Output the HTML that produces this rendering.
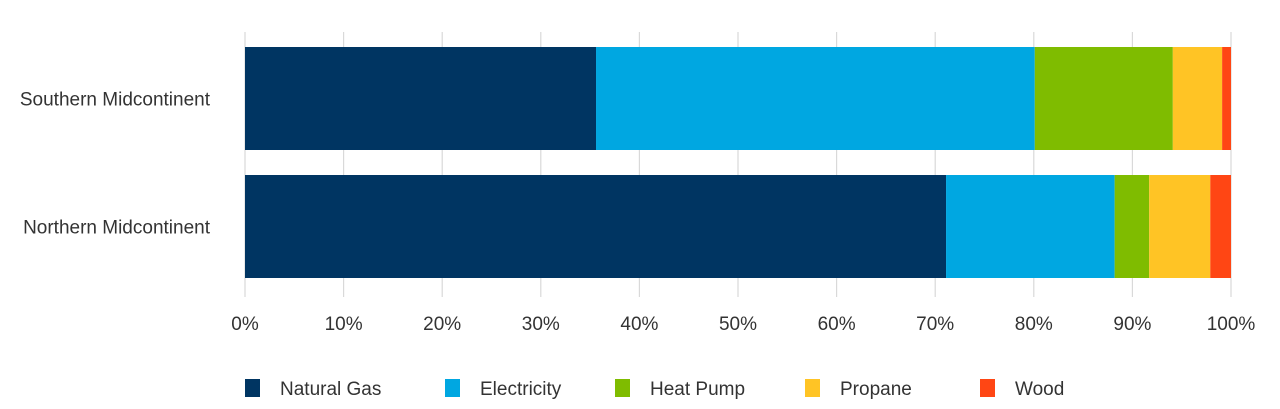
<!DOCTYPE html>
<html><head><meta charset="utf-8"><style>
body{margin:0;background:#fff;width:1280px;height:404px;overflow:hidden;font-family:"Liberation Sans",sans-serif}
</style></head><body>
<svg id="chart" width="1280" height="404" xmlns="http://www.w3.org/2000/svg"></svg>
<script>
const categories = ["Southern Midcontinent", "Northern Midcontinent"];
const seriesNames = ["Natural Gas", "Electricity", "Heat Pump", "Propane", "Wood"];
const naturalGas = [35.6, 71.1];
const electricity = [44.5, 17.1];
const heatPump = [14.0, 3.5];
const propane = [5.0, 6.2];
const wood = [0.9, 2.1];
const tickValues = [0,10,20,30,40,50,60,70,80,90,100];
const tickLabels = ["0%","10%","20%","30%","40%","50%","60%","70%","80%","90%","100%"];

const colors = ["#003562","#00a7e1","#7fbc00","#ffc425","#ff4614"];
const series = [naturalGas, electricity, heatPump, propane, wood];
const svg = document.getElementById('chart');
const NS = "http://www.w3.org/2000/svg";
const x0 = 245, x1 = 1231;
const xScale = v => x0 + (x1 - x0) * v / 100;
const bandTop = [47, 175], bandH = 103;
function mk(tag, attrs){const e=document.createElementNS(NS,tag);for(const k in attrs)e.setAttribute(k,attrs[k]);svg.appendChild(e);return e;}

tickValues.forEach((t,i)=>{
  const x = xScale(t);
  const g = mk('line',{x1:x,x2:x,y1:32,y2:297,stroke:'#d9d9d9','stroke-width':1.2});
  
  
  const lb = mk('text',{x:x,y:330,'text-anchor':'middle','font-size':19,fill:'#333'});
  lb.textContent = tickLabels[i];
  
  
});

categories.forEach((c,ci)=>{
  let acc = 0;
  series.forEach((s,si)=>{
    const xs = xScale(acc), xe = xScale(acc + s[ci]);
    acc += s[ci];
    const r = mk('rect',{x:xs,y:bandTop[ci],width:Math.max(0,xe-xs),height:bandH,fill:colors[si]});
    
    
  });
  const t = mk('text',{x:210,y:bandTop[ci]+bandH/2+7,'text-anchor':'end','font-size':19,fill:'#333'});
  t.textContent = c;
  
  
});

const legX = [245,445,615,805,980];
seriesNames.forEach((n,i)=>{
  const r = mk('rect',{x:legX[i],y:379,width:15,height:18,fill:colors[i]});
  
  
  const t = mk('text',{x:legX[i]+35,y:395,'font-size':19,fill:'#333'});
  t.textContent = n;
  
  
});
</script>
</body></html>
